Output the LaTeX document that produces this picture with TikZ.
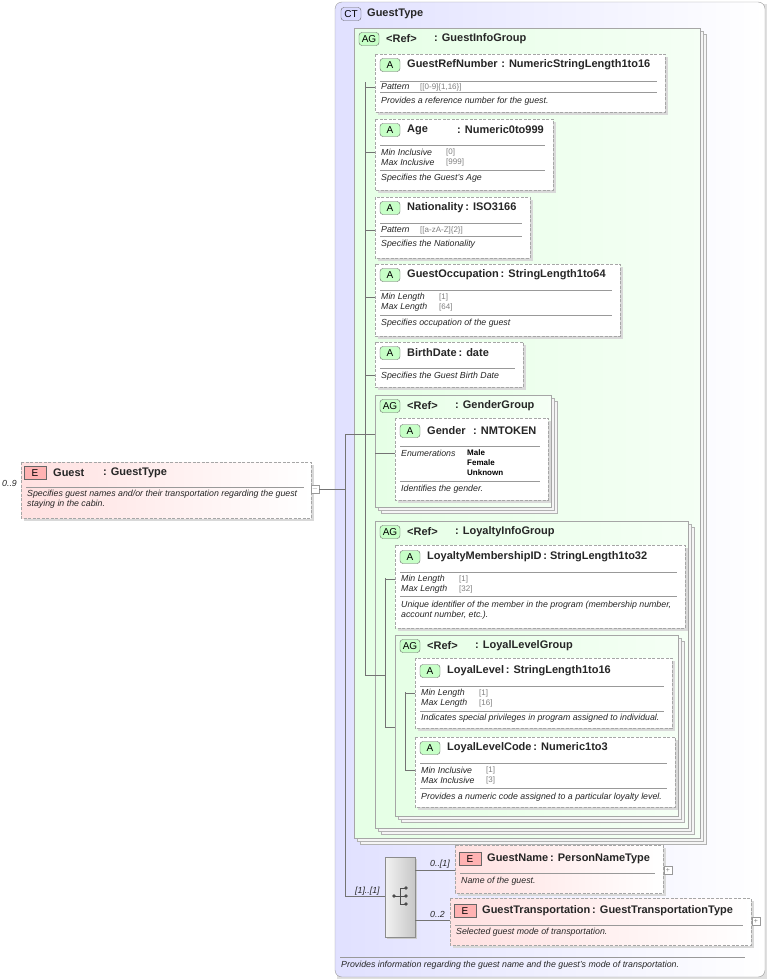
\documentclass[tikz,border=0pt]{standalone}
\usepackage{fontspec}
\setmainfont{Liberation Sans}
\begin{document}
\begin{tikzpicture}[x=1pt,y=-1pt,
 shd/.style={fill=black!15,draw=none},
 dbox/.style={draw=black!35,dash pattern=on 3pt off 1.5pt,fill=white},
 ebox/.style={draw=black!35,dash pattern=on 3pt off 1.5pt,left color=red!12,right color=white},
 sep/.style={draw=black!40,line width=0.5pt},
 conn/.style={draw=black!55,line width=0.5pt},
 ttl/.style={font=\bfseries\fontsize{11}{12}\selectfont,anchor=west,inner sep=0,text=black!85},
 lab/.style={font=\itshape\fontsize{8.8}{10}\selectfont,anchor=west,inner sep=0,text=black!85},
 val/.style={font=\fontsize{8}{9}\selectfont,anchor=west,inner sep=0,text=black!50},
 enm/.style={font=\bfseries\fontsize{8}{9}\selectfont,anchor=west,inner sep=0},
 badge/.style={draw=black!60,rounded corners=3pt,font=\fontsize{10}{10}\selectfont,minimum width=20pt,minimum height=13pt,inner sep=0},
 bA/.style={badge,fill=green!22!white},
 bE/.style={badge,fill=red!30!white,rounded corners=0pt,minimum width=22pt},
 agbox/.style={draw=black!35,left color=green!10!white,right color=green!4!white},
 agst/.style={draw=black!30,fill=black!4},
 plus/.style={draw=black!40,fill=white,minimum size=8pt,inner sep=0,font=\fontsize{7}{7}\selectfont,text=black!50}]
\newcommand\myattr[6]{%
 \fill[shd] ({#2+3},{#3+3}) rectangle ({#4+3},{#5+3});
 \draw[dbox] (#2,#3) rectangle (#4,#5);
 \node[bA] (#1b) at ({#2+15},#6) {A};
 \coordinate (#1) at (#2,{#6+22});}
\newcommand\myag[6]{%
 \draw[agst] ({#2+6},{#3+6}) rectangle ({#4+6},{#5+6});
 \draw[agst] ({#2+3},{#3+3}) rectangle ({#4+3},{#5+3});
 \draw[agbox] (#2,#3) rectangle (#4,#5);
 \node[badge,fill=green!22!white] (#1b) at ({#2+15},{#3+11}) {AG};
 \node[ttl] at ({#2+32},{#3+11}) {<Ref>};
 \node[ttl] at ({#2+80},{#3+11}) {#6};}
\useasboundingbox (0,0) rectangle (768,980);
% CT
\fill[black!12] (337,4) rectangle (767,979);
\draw[draw=black!40,rounded corners=7pt,left color=blue!12!white,right color=white] (335,2) rectangle (765,977);
\node[badge,fill=blue!15!white] (ctb) at (351,14) {CT};
\node[ttl] at (367,14) {GuestType};
\draw[sep] (340,957) -- (745,957);
\node[lab] at (341,965) {Provides information regarding the guest name and the guest's mode of transportation.};
% GuestInfoGroup
\myag{gig}{354}{28}{700}{838}{: GuestInfoGroup}
% GuestRefNumber
\myattr{grn}{375}{54}{665}{112}{65}
\node[ttl] at (407,65) {GuestRefNumber\,\,: NumericStringLength1to16};
\draw[sep] (380,81)--(657,81); \draw[sep] (380,92)--(657,92);
\node[lab] at (381,87) {Pattern}; \node[val] at (420,87) {[[0-9]\{1,16\}]};
\node[lab] at (381,101) {Provides a reference number for the guest.};
% Age
\myattr{age}{375}{119}{553}{190}{130}
\node[ttl] at (407,130) {Age}; \node[ttl] at (457,130) {: Numeric0to999};
\draw[sep] (380,145)--(545,145); \draw[sep] (380,170)--(545,170);
\node[lab] at (381,152) {Min Inclusive}; \node[val] at (446,152) {[0]};
\node[lab] at (381,162) {Max Inclusive}; \node[val] at (446,162) {[999]};
\node[lab] at (381,178) {Specifies the Guest's Age};
% Nationality
\myattr{nat}{375}{197}{530}{258}{208}
\node[ttl] at (407,208) {Nationality\,: ISO3166};
\draw[sep] (380,223)--(522,223); \draw[sep] (380,236)--(522,236);
\node[lab] at (381,230) {Pattern}; \node[val] at (420,230) {[[a-zA-Z]\{2\}]};
\node[lab] at (381,244) {Specifies the Nationality};
% GuestOccupation
\myattr{occ}{375}{264}{620}{336}{275}
\node[ttl] at (407,275) {GuestOccupation\,: StringLength1to64};
\draw[sep] (380,290)--(612,290); \draw[sep] (380,315)--(612,315);
\node[lab] at (381,297) {Min Length}; \node[val] at (439,297) {[1]};
\node[lab] at (381,307) {Max Length}; \node[val] at (439,307) {[64]};
\node[lab] at (381,323) {Specifies occupation of the guest};
% BirthDate
\myattr{bd}{375}{342}{523}{387}{353}
\node[ttl] at (407,353) {BirthDate\,: date};
\draw[sep] (380,368)--(515,368);
\node[lab] at (381,376) {Specifies the Guest Birth Date};
% GenderGroup
\myag{gg}{375}{395}{551}{507}{: GenderGroup}
\myattr{gen}{395}{418}{548}{500}{431}
\node[ttl] at (427,431) {Gender}; \node[ttl] at (473,431) {: NMTOKEN};
\draw[sep] (400,446)--(540,446); \draw[sep] (400,481)--(540,481);
\node[lab] at (401,453) {Enumerations};
\node[enm] at (467,453) {Male}; \node[enm] at (467,463) {Female}; \node[enm] at (467,473) {Unknown};
\node[lab] at (401,489) {Identifies the gender.};
% LoyaltyInfoGroup
\myag{lig}{375}{521}{688}{828}{: LoyaltyInfoGroup}
\myattr{lmi}{395}{545}{685}{628}{557}
\node[ttl] at (427,557) {LoyaltyMembershipID\,: StringLength1to32};
\draw[sep] (400,572)--(677,572); \draw[sep] (400,596)--(677,596);
\node[lab] at (401,579) {Min Length}; \node[val] at (459,579) {[1]};
\node[lab] at (401,589) {Max Length}; \node[val] at (459,589) {[32]};
\node[lab] at (401,605) {Unique identifier of the member in the program (membership number,};
\node[lab] at (401,615) {account number, etc.).};
% LoyalLevelGroup
\myag{llg}{395}{635}{678}{816}{: LoyalLevelGroup}
\myattr{ll}{415}{658}{672}{728}{671}
\node[ttl] at (447,671) {LoyalLevel\,: StringLength1to16};
\draw[sep] (420,686)--(664,686); \draw[sep] (420,711)--(664,711);
\node[lab] at (421,693) {Min Length}; \node[val] at (479,693) {[1]};
\node[lab] at (421,703) {Max Length}; \node[val] at (479,703) {[16]};
\node[lab] at (421,718) {Indicates special privileges in program assigned to individual.};
\myattr{llc}{415}{737}{675}{807}{748}
\node[ttl] at (447,748) {LoyalLevelCode\,: Numeric1to3};
\draw[sep] (420,763)--(667,763); \draw[sep] (420,788)--(667,788);
\node[lab] at (421,770) {Min Inclusive}; \node[val] at (486,770) {[1]};
\node[lab] at (421,780) {Max Inclusive}; \node[val] at (486,780) {[3]};
\node[lab] at (421,797) {Provides a numeric code assigned to a particular loyalty level.};
% Guest element
\fill[shd] (24,465) rectangle (314,521);
\draw[ebox] (21,462) rectangle (311,518);
\node[bE] (gb) at (35,473) {E};
\node[ttl] at (53,473) {Guest}; \node[ttl] at (103,473) {: GuestType};
\draw[sep] (26,487)--(304,487);
\node[lab] at (27,494) {Specifies guest names and/or their transportation regarding the guest};
\node[lab] at (27,504) {staying in the cabin.};
\node[lab] at (2,483) {0..9};
\node[plus] (gm) at (315,489) {$-$};
% sequence
\fill[black!20] (387,859) rectangle (417,939);
\draw[draw=black!45,left color=black!5,right color=black!22] (385,857) rectangle (415,937);
\coordinate (seq) at (385,896);
\fill[black!70] (394,896) circle (1.8pt) (406,888) circle (1.8pt) (406,896) circle (1.8pt) (406,904) circle (1.8pt);
\draw[black!70,line width=0.8pt] (394,896)--(400,896) (400,888)--(400,904) (400,888)--(406,888) (400,896)--(406,896) (400,904)--(406,904);
% GuestName
\fill[shd] (458,848) rectangle (666,896);
\draw[ebox] (455,845) rectangle (663,893);
\node[bE] (gnb) at (470,859) {E};
\coordinate (gn) at (455,870);
\node[ttl] at (487,859) {GuestName\,: PersonNameType};
\draw[sep] (460,873)--(655,873);
\node[lab] at (461,881) {Name of the guest.};
\node[plus] at (668,870) {+};
% GuestTransportation
\fill[shd] (453,901) rectangle (754,948);
\draw[ebox] (450,898) rectangle (751,945);
\node[bE] (gtb) at (465,911) {E};
\coordinate (gt) at (450,920);
\node[ttl] at (482,911) {GuestTransportation\,: GuestTransportationType};
\draw[sep] (455,925)--(743,925);
\node[lab] at (456,932) {Selected guest mode of transportation.};
\node[plus] at (756,921) {+};
\node[lab] at (430,864) {0..[1]};
\node[lab] at (430,914) {0..2};
\node[lab] at (355,891) {[1]..[1]};
% connectors
\draw[conn] (gm.east)--(345,489);
\draw[conn] (345,434)--(345,896)--(seq);
\draw[conn] (345,434)--(375,434);
\draw[conn] (365,82)--(365,675)--(375,675);
\foreach \c in {grn,age,nat,occ,bd}{\draw[conn] (365,0|-\c)--(\c);}
\draw[conn] (375,453)--(gen);
\draw[conn] (375,675)--(385,675);
\draw[conn] (385,578)--(385,727)--(395,727);
\draw[conn] (385,0|-lmi)--(lmi);
\draw[conn] (405,692)--(405,770);
\draw[conn] (405,0|-ll)--(ll); \draw[conn] (405,0|-llc)--(llc);
\draw[conn] (415,870)--(gn); \draw[conn] (415,920)--(gt);
\end{tikzpicture}
\end{document}
